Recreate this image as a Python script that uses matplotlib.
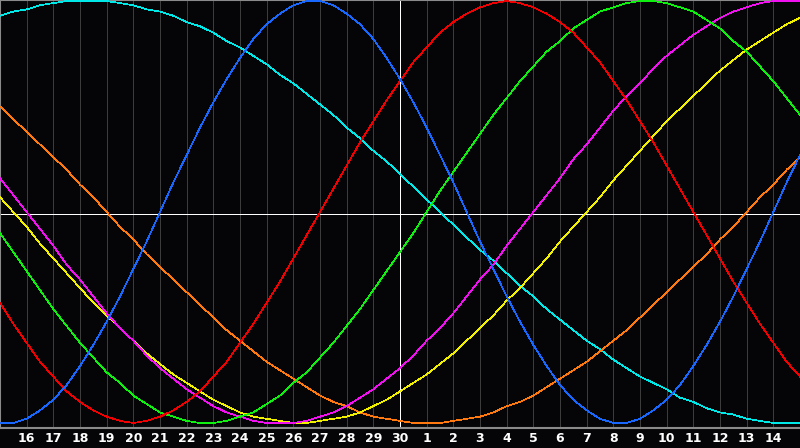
import matplotlib
matplotlib.use("Agg")
import matplotlib.pyplot as plt

# half-day positions 0..30 (left edge = 15th of previous month)
days = [i / 2 for i in range(61)]
grid_days = list(range(1, 30))
day_labels = [str(d) for d in range(16, 31)] + [str(d) for d in range(1, 15)]

# curves, one value per half day
physical = [-1.00, -1.00, -0.98, -0.94, -0.89, -0.82, -0.73, -0.63, -0.52, -0.40,
            -0.27, -0.14, 0.00, 0.14, 0.27, 0.40, 0.52, 0.63, 0.73, 0.82,
            0.89, 0.94, 0.98, 1.00, 1.00, 0.98, 0.94, 0.89, 0.82, 0.73,
            0.63, 0.52, 0.40, 0.27, 0.14, 0.00, -0.14, -0.27, -0.40, -0.52,
            -0.63, -0.73, -0.82, -0.89, -0.94, -0.98, -1.00, -1.00, -0.98, -0.94,
            -0.89, -0.82, -0.73, -0.63, -0.52, -0.40, -0.27, -0.14, 0.00, 0.14,
            0.27]
emotional = [-0.43, -0.53, -0.62, -0.71, -0.78, -0.85, -0.90, -0.94, -0.97, -0.99,
             -1.00, -0.99, -0.97, -0.94, -0.90, -0.85, -0.78, -0.71, -0.62, -0.53,
             -0.43, -0.33, -0.22, -0.11, 0.00, 0.11, 0.22, 0.33, 0.43, 0.53,
             0.62, 0.71, 0.78, 0.85, 0.90, 0.94, 0.97, 0.99, 1.00, 0.99,
             0.97, 0.94, 0.90, 0.85, 0.78, 0.71, 0.62, 0.53, 0.43, 0.33,
             0.22, 0.11, 0.00, -0.11, -0.22, -0.33, -0.43, -0.53, -0.62, -0.71,
             -0.78]
intellectual = [-0.10, -0.19, -0.28, -0.37, -0.46, -0.54, -0.62, -0.69, -0.76, -0.81,
                -0.87, -0.91, -0.95, -0.97, -0.99, -1.00, -1.00, -0.99, -0.97, -0.95,
                -0.91, -0.87, -0.81, -0.76, -0.69, -0.62, -0.54, -0.46, -0.37, -0.28,
                -0.19, -0.10, 0.00, 0.10, 0.19, 0.28, 0.37, 0.46, 0.54, 0.62,
                0.69, 0.76, 0.81, 0.87, 0.91, 0.95, 0.97, 0.99, 1.00, 1.00,
                0.99, 0.97, 0.95, 0.91, 0.87, 0.81, 0.76, 0.69, 0.62, 0.54,
                0.46]
intuitive = [0.16, 0.08, 0.00, -0.08, -0.16, -0.25, -0.32, -0.40, -0.48, -0.55,
             -0.61, -0.68, -0.74, -0.79, -0.84, -0.88, -0.92, -0.95, -0.97, -0.99,
             -1.00, -1.00, -1.00, -0.99, -0.97, -0.95, -0.92, -0.88, -0.84, -0.79,
             -0.74, -0.68, -0.61, -0.55, -0.48, -0.40, -0.32, -0.25, -0.16, -0.08,
             0.00, 0.08, 0.16, 0.25, 0.32, 0.40, 0.48, 0.55, 0.61, 0.68,
             0.74, 0.79, 0.84, 0.88, 0.92, 0.95, 0.97, 0.99, 1.00, 1.00,
             1.00]
aesthetic = [0.07, 0.00, -0.07, -0.15, -0.22, -0.29, -0.36, -0.43, -0.49, -0.55,
             -0.61, -0.67, -0.72, -0.77, -0.81, -0.85, -0.89, -0.92, -0.95, -0.97,
             -0.98, -0.99, -1.00, -1.00, -0.99, -0.98, -0.97, -0.95, -0.92, -0.89,
             -0.85, -0.81, -0.77, -0.72, -0.67, -0.61, -0.55, -0.49, -0.42, -0.36,
             -0.29, -0.22, -0.14, -0.07, 0.00, 0.07, 0.15, 0.22, 0.29, 0.36,
             0.43, 0.49, 0.55, 0.61, 0.67, 0.72, 0.77, 0.81, 0.85, 0.89,
             0.92]
awareness = [0.50, 0.44, 0.38, 0.32, 0.26, 0.20, 0.13, 0.07, 0.00, -0.07,
             -0.13, -0.20, -0.26, -0.32, -0.38, -0.44, -0.50, -0.56, -0.61, -0.66,
             -0.71, -0.75, -0.79, -0.83, -0.87, -0.90, -0.92, -0.95, -0.97, -0.98,
             -0.99, -1.00, -1.00, -1.00, -0.99, -0.98, -0.97, -0.95, -0.92, -0.90,
             -0.87, -0.83, -0.79, -0.75, -0.71, -0.66, -0.61, -0.56, -0.50, -0.44,
             -0.38, -0.32, -0.26, -0.20, -0.13, -0.07, 0.00, 0.07, 0.13, 0.20,
             0.26]
spiritual = [0.93, 0.95, 0.96, 0.98, 0.99, 1.00, 1.00, 1.00, 1.00, 0.99,
             0.98, 0.96, 0.95, 0.93, 0.90, 0.88, 0.85, 0.81, 0.78, 0.74,
             0.70, 0.65, 0.61, 0.56, 0.51, 0.46, 0.40, 0.35, 0.29, 0.24,
             0.18, 0.12, 0.06, 0.00, -0.06, -0.12, -0.18, -0.23, -0.29, -0.35,
             -0.40, -0.46, -0.51, -0.56, -0.61, -0.65, -0.70, -0.74, -0.78, -0.81,
             -0.84, -0.88, -0.90, -0.93, -0.95, -0.96, -0.98, -0.99, -1.00, -1.00,
             -1.00]

fig = plt.figure(figsize=(8, 4.48), dpi=100, facecolor="#050508")
ax = fig.add_axes([0, 20 / 448, 1, 428 / 448])
ax.set_facecolor("#050508")

# day grid
for d in grid_days:
    ax.axvline(d, color="#3c3c3c", lw=0.72, zorder=1, antialiased=False)

ax.axvline(15, color="white", lw=0.72, zorder=2, antialiased=False)
ax.axhline(-0.01, color="white", lw=0.72, zorder=2, antialiased=False)

curves = [
    (spiritual, "#00e8e8"),
    (awareness, "#ff7810"),
    (aesthetic, "#f0f000"),
    (intuitive, "#f010f0"),
    (intellectual, "#10f010"),
    (emotional, "#f00000"),
    (physical, "#1868ff"),
]
for vals, col in curves:
    ax.plot(days, vals, color=col, lw=0.5, zorder=3, antialiased=False)

ax.set_xlim(0, 30)
ax.set_ylim(-1.0237, 1.0047)
ax.set_yticks([])
ax.set_xticks(grid_days)
ax.set_xticklabels(day_labels, color="white", fontsize=9, fontweight="bold",
                   family="DejaVu Sans")
ax.tick_params(axis="x", length=0, pad=3)

for side in ["top", "left", "bottom"]:
    ax.spines[side].set_color("#8a8a8a")
    ax.spines[side].set_linewidth(1.5)
ax.spines["right"].set_visible(False)

fig.savefig("out.png", dpi=100, facecolor="#050508")
